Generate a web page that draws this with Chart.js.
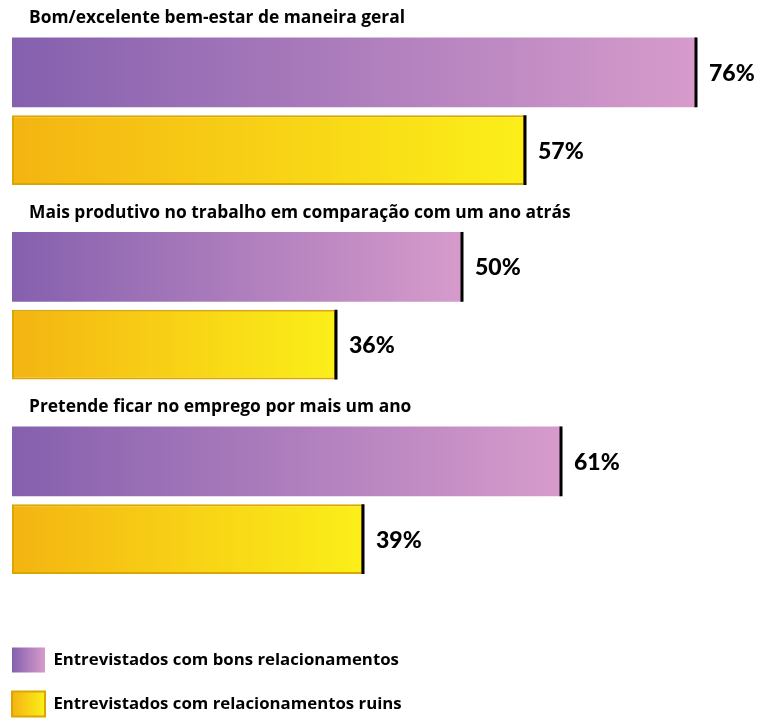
<!DOCTYPE html>
<html lang="pt">

<head>
  <meta charset="UTF-8">
  <title>Relacionamentos no trabalho</title>
  <script src="https://cdn.jsdelivr.net/npm/chart.js"></script>
  <style>
    html, body { margin: 0; padding: 0; background: #fff; overflow: hidden; }
    #wrap { position: relative; width: 760px; height: 718px; }
  </style>
</head>

<body>
  <div id="wrap">
    <canvas id="relChart"></canvas>
  </div>

  <script>
    // survey questions and the two groups of respondents
    const categories = [
      'Bom/excelente bem-estar de maneira geral',
      'Mais produtivo no trabalho em comparação com um ano atrás',
      'Pretende ficar no emprego por mais um ano'
    ];
    const seriesNames = [
      'Entrevistados com bons relacionamentos',
      'Entrevistados com relacionamentos ruins'
    ];
    const bonsValues = [76, 50, 61];
    const ruinsValues = [57, 36, 39];

    // gradient ends (left -> right)
    const purpleStops = ['#8560ae', '#d69bcb'];
    const yellowStops = ['#f4b412', '#fbef19'];
    const yellowBorder = '#d9a700';
    const textFont = '"Open Sans", "Noto Sans", sans-serif';

    // each bar gets its own gradient running from 0 to its value
    function barGradient(context, stops) {
      const chart = context.chart;
      if (!chart.chartArea || typeof context.raw !== 'number') return stops[0];
      const xs = chart.scales.x;
      const g = chart.ctx.createLinearGradient(xs.getPixelForValue(0), 0, xs.getPixelForValue(context.raw), 0);
      g.addColorStop(0, stops[0]);
      g.addColorStop(1, stops[1]);
      return g;
    }

    // black end cap, value label and question title
    const annotate = {
      id: 'annotate',
      afterDatasetsDraw(chart) {
        const ctx = chart.ctx;
        ctx.save();
        ctx.textBaseline = 'middle';
        ctx.textAlign = 'left';
        ctx.fillStyle = '#000';
        chart.data.datasets.forEach((ds, di) => {
          chart.getDatasetMeta(di).data.forEach((bar, i) => {
            const { x, y, height } = bar.getProps(['x', 'y', 'height'], true);
            ctx.fillRect(x - 1.5, y - height / 2, 3, height);
            ctx.font = '900 23px Lato, "Open Sans", sans-serif';
            ctx.fillText(ds.data[i] + '%', x + 13, y + 1);
            if (di === 0) {
              ctx.font = '700 17.4px ' + textFont;
              ctx.fillText(chart.data.labels[i], 29, y - height / 2 - 19);
            }
          });
        });
        ctx.restore();
      }
    };

    new Chart(document.getElementById('relChart'), {
      type: 'bar',
      data: {
        labels: categories,
        datasets: [{
          label: seriesNames[0],
          data: bonsValues,
          backgroundColor: (c) => barGradient(c, purpleStops),
          borderWidth: 0,
          categoryPercentage: 0.8,
          barPercentage: 0.897
        }, {
          label: seriesNames[1],
          data: ruinsValues,
          backgroundColor: (c) => barGradient(c, yellowStops),
          borderColor: yellowBorder,
          borderWidth: 2,
          borderSkipped: false,
          categoryPercentage: 0.8,
          barPercentage: 0.897
        }]
      },
      options: {
        indexAxis: 'y',
        responsive: true,
        maintainAspectRatio: false,
        animation: false,
        layout: {
          padding: { left: -7, right: 1, top: 14, bottom: -8.5 }
        },
        scales: {
          x: {
            min: 0,
            max: 83,
            grid: { display: false },
            border: { display: false },
            ticks: { display: false },
            afterFit(scale) { scale.height = 31; }
          },
          y: {
            grid: { display: false },
            border: { display: false },
            ticks: { display: false },
            afterFit(scale) { scale.width = 19; }
          }
        },
        plugins: {
          tooltip: { enabled: false },
          legend: {
            position: 'bottom',
            align: 'start',
            labels: {
              boxWidth: 33,
              boxHeight: 25,
              padding: 19,
              color: '#000',
              font: { family: textFont, size: 16.8, weight: '700' },
              generateLabels(chart) {
                const ctx = chart.ctx;
                const stops = [purpleStops, yellowStops];
                return chart.data.datasets.map((ds, i) => {
                  const g = ctx.createLinearGradient(12, 0, 45, 0);
                  g.addColorStop(0, stops[i][0]);
                  g.addColorStop(1, stops[i][1]);
                  return {
                    text: ds.label,
                    fillStyle: g,
                    strokeStyle: i === 1 ? yellowBorder : 'rgba(0,0,0,0)',
                    lineWidth: i === 1 ? 2 : 0,
                    fontColor: '#000',
                    hidden: false,
                    datasetIndex: i
                  };
                });
              }
            }
          }
        }
      },
      plugins: [annotate]
    });
  </script>
</body>

</html>
